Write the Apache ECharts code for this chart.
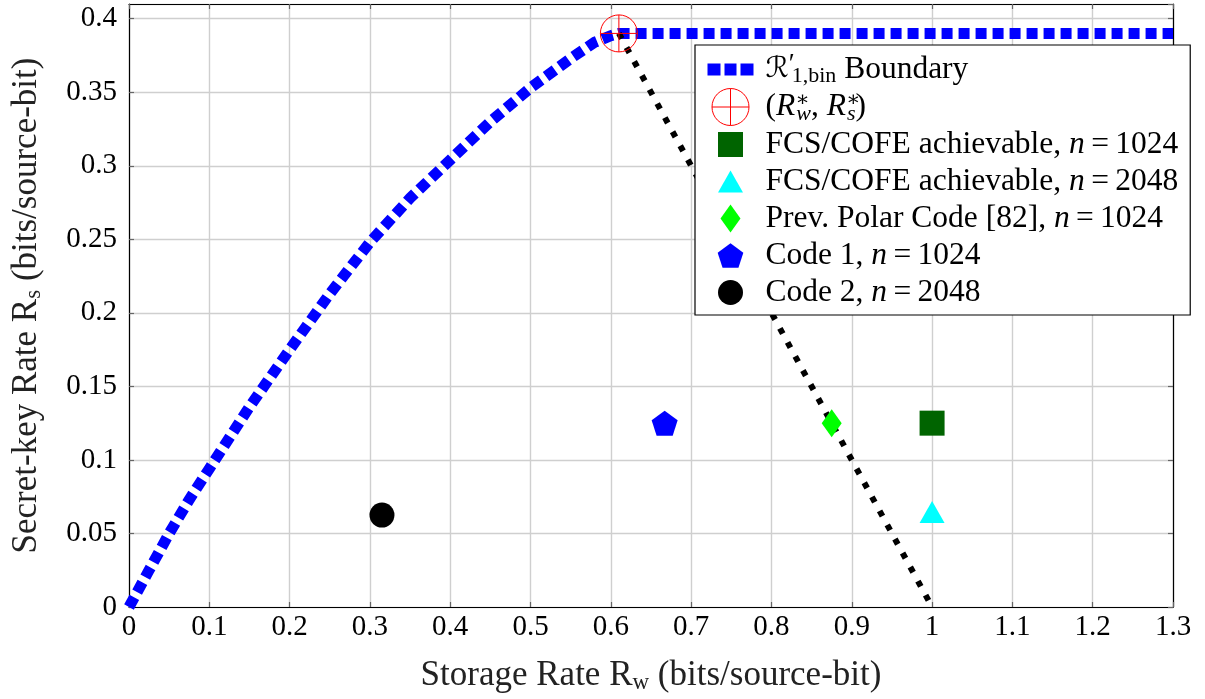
<!DOCTYPE html>
<html>
<head>
<meta charset="utf-8">
<script src="https://cdn.jsdelivr.net/npm/echarts@6/dist/echarts.min.js"></script>
<style>
html,body{margin:0;padding:0;background:#fff;}
#chart{width:1205px;height:699px;}
</style>
</head>
<body>
<div id="chart"></div>
<script>
// ---- data ----
const xTicks = [0, 0.1, 0.2, 0.3, 0.4, 0.5, 0.6, 0.7, 0.8, 0.9, 1, 1.1, 1.2, 1.3];
const yTicks = [0, 0.05, 0.1, 0.15, 0.2, 0.25, 0.3, 0.35, 0.4];
const boundaryX = [0, 0.025, 0.05, 0.075, 0.1, 0.15, 0.2, 0.25, 0.3, 0.35, 0.4, 0.45, 0.5, 0.55, 0.58, 0.6, 0.61, 1.3];
const boundaryY = [0, 0.025, 0.050, 0.073, 0.094, 0.136, 0.175, 0.213, 0.248, 0.278, 0.304, 0.330, 0.353, 0.373, 0.384, 0.3885, 0.39, 0.39];
const tangentX = [0.61, 1.0];
const tangentY = [0.39, 0.0];
const optPoint = [0.61, 0.39];
const fcs1024 = [1.0, 0.125];
const fcs2048 = [1.0, 0.0625];
const prevPolar = [0.875, 0.125];
const code1 = [0.667, 0.125];
const code2 = [0.315, 0.0625];

const FONT = '"Liberation Serif", "DejaVu Serif", serif';

const zip = (a, b) => a.map((v, i) => [v, b[i]]);

const legendText = {
  bnd: '{cal|ℛ}{prime|′}{sub|1,bin} Boundary',
  opt: '({it|R}{sups|∗}{itsub|w}, {it|R}{sups|∗}{itsub|s})',
  fcs1024: 'FCS/COFE achievable, {it|n}\u2009=\u20091024',
  fcs2048: 'FCS/COFE achievable, {it|n}\u2009=\u20092048',
  prev: 'Prev. Polar Code [82], {it|n}\u2009=\u20091024',
  code1: 'Code 1, {it|n}\u2009=\u20091024',
  code2: 'Code 2, {it|n}\u2009=\u20092048'
};

const F = 'M0 0M53 37';
const icons = {
  bnd: 'path://' + F + 'M0 12.5h13v12h-13zM17 12.5h12v12h-12zM33 12.5h13v12h-13z',
  opt: 'path://' + F + 'M4.5 18.5A18.5 18.5 0 1 1 41.5 18.5A18.5 18.5 0 1 1 4.5 18.5ZM4.5 18.5H41.5M23 0V37',
  fcs1024: 'path://' + F + 'M10.5 6h25v25h-25z',
  fcs2048: 'path://' + F + 'M23 7.5L35.5 29.5L10.5 29.5Z',
  prev: 'path://' + F + 'M23 4.5L33 18.5L23 32.5L13 18.5Z',
  code1: 'path://' + F + 'M23 6.3L35.84 15.63L30.94 30.72L15.06 30.72L10.16 15.63Z',
  code2: 'path://' + F + 'M10.5 18.5A12.5 12.5 0 1 1 35.5 18.5A12.5 12.5 0 1 1 10.5 18.5Z'
};
const iconColors = {
  bnd: '#0000ff', fcs1024: '#006400', fcs2048: '#00ffff', prev: '#00ff00', code1: '#0000ff', code2: '#000000'
};
const legendData = Object.keys(legendText).map(k => ({
  name: k,
  icon: icons[k],
  itemStyle: k === 'opt'
    ? {color: 'rgba(0,0,0,0)', borderColor: '#ff0000', borderWidth: 1, opacity: 1}
    : {color: iconColors[k], borderWidth: 0, opacity: 1}
}));

const gridLine = {show: true, lineStyle: {color: '#cfcfcf', width: 1.4}};
const frameLine = {show: true, onZero: false, lineStyle: {color: '#000', width: 1.2}};
const tickIn = {show: true, inside: true, length: 5, lineStyle: {color: '#666', width: 1.2}};
const titleStyle = {color: '#222', fontFamily: FONT, fontSize: 35,
  rich: {sub: {fontFamily: FONT, fontSize: 23, color: '#222', padding: [14, 0, 0, 0]}}};

const chart = echarts.init(document.getElementById('chart'), null, {renderer: 'canvas'});
chart.setOption({
  animation: false,
  backgroundColor: '#fff',
  grid: {left: 129, right: 32, top: 4, bottom: 90, containLabel: false},
  xAxis: [{
    type: 'value', min: xTicks[0], max: xTicks[xTicks.length - 1], interval: 0.1,
    position: 'bottom',
    axisLine: frameLine, axisTick: tickIn, splitLine: gridLine,
    axisLabel: {color: '#000', fontFamily: FONT, fontSize: 29, margin: 6},
    name: 'Storage Rate R{sub|w} (bits/source-bit)',
    nameLocation: 'middle', nameGap: 50,
    nameTextStyle: titleStyle
  }, {
    type: 'value', min: xTicks[0], max: xTicks[xTicks.length - 1], interval: 0.1,
    position: 'top',
    axisLine: frameLine, axisTick: tickIn, splitLine: {show: false}, axisLabel: {show: false}
  }],
  yAxis: [{
    type: 'value', min: yTicks[0], max: 0.41, interval: 0.05,
    position: 'left',
    axisLine: frameLine, axisTick: tickIn, splitLine: gridLine,
    axisLabel: {color: '#000', fontFamily: FONT, fontSize: 29, margin: 12, showMaxLabel: false},
    name: 'Secret-key Rate R{sub|s} (bits/source-bit)',
    nameLocation: 'middle', nameGap: 84, nameRotate: 90,
    nameTextStyle: titleStyle
  }, {
    type: 'value', min: yTicks[0], max: 0.41, interval: 0.05,
    position: 'right',
    axisLine: frameLine, axisTick: tickIn, splitLine: {show: false}, axisLabel: {show: false}
  }],
  legend: {
    orient: 'vertical', left: 695, top: 45,
    padding: [6, 12, 4, 12],
    itemWidth: 53, itemHeight: 37, itemGap: 0,
    backgroundColor: '#fff', borderColor: '#000', borderWidth: 1.2,
    selectedMode: false,
    data: legendData,
    formatter: name => legendText[name],
    textStyle: {
      color: '#000', fontFamily: FONT, fontSize: 31.5,
      rich: {
        it: {fontFamily: FONT, fontSize: 31.5, fontStyle: 'italic', color: '#000'},
        cal: {fontFamily: '"DejaVu Serif", "DejaVu Sans", serif', fontSize: 29, fontStyle: 'italic', color: '#000'},
        prime: {fontFamily: FONT, fontSize: 27, color: '#000', width: 3, padding: [0, 0, 10, 0]},
        sub: {fontFamily: FONT, fontSize: 22, color: '#000', padding: [14, 0, 0, 0]},
        sups: {fontFamily: FONT, fontSize: 21, color: '#000', width: 1, padding: [0, 0, 14, 0]},
        itsub: {fontFamily: FONT, fontSize: 22, fontStyle: 'italic', color: '#000', padding: [14, 0, 0, 0]}
      }
    }
  },
  series: [
    {
      name: 'bnd', type: 'line', data: zip(boundaryX, boundaryY),
      showSymbol: false, symbol: 'none', smooth: false, z: 2,
      itemStyle: {color: '#0000ff'},
      lineStyle: {color: '#0000ff', width: 11, type: [11, 6], cap: 'butt', join: 'miter'}
    },
    {
      name: 'tangent', type: 'line', data: zip(tangentX, tangentY),
      showSymbol: false, symbol: 'none', z: 3,
      lineStyle: {color: '#000', width: 6, type: [6, 10], cap: 'butt'}
    },
    {
      name: 'opt', type: 'scatter', data: [optPoint], z: 5,
      symbol: 'path://M-1 0A1 1 0 1 1 1 0A1 1 0 1 1 -1 0ZM-1 0H1M0 -1V1',
      symbolSize: 37,
      itemStyle: {color: 'rgba(0,0,0,0)', borderColor: '#ff0000', borderWidth: 1, opacity: 1}
    },
    {
      name: 'fcs1024', type: 'scatter', data: [fcs1024], z: 4,
      symbol: 'rect', symbolSize: 25, itemStyle: {color: '#006400', opacity: 1}
    },
    {
      name: 'fcs2048', type: 'scatter', data: [fcs2048], z: 4,
      symbol: 'triangle', symbolSize: [25, 22], symbolOffset: [0, -3], itemStyle: {color: '#00ffff', opacity: 1}
    },
    {
      name: 'prev', type: 'scatter', data: [prevPolar], z: 4,
      symbol: 'diamond', symbolSize: [20, 28], itemStyle: {color: '#00ff00', opacity: 1}
    },
    {
      name: 'code1', type: 'scatter', data: [code1], z: 4,
      symbol: 'path://M0 -1L0.951 -0.309L0.588 0.809L-0.588 0.809L-0.951 -0.309Z',
      symbolSize: [26, 25], itemStyle: {color: '#0000ff', opacity: 1}
    },
    {
      name: 'code2', type: 'scatter', data: [code2], z: 4,
      symbol: 'circle', symbolSize: 25, itemStyle: {color: '#000', opacity: 1}
    }
  ]
});
</script>
</body>
</html>
